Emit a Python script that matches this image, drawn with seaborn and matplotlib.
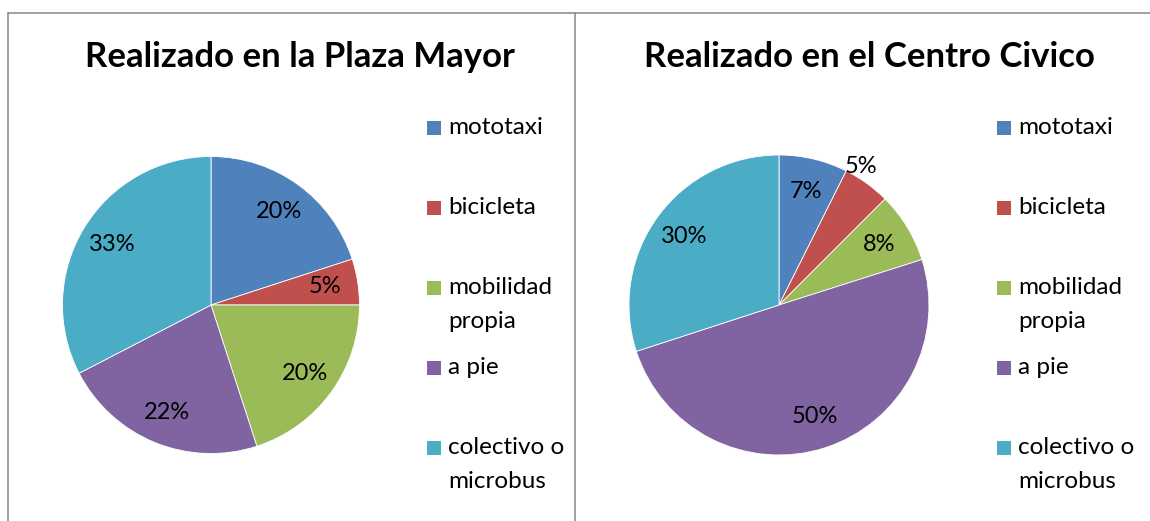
import matplotlib
matplotlib.use("Agg")
import matplotlib.pyplot as plt
import seaborn as sns
import numpy as np
from matplotlib.lines import Line2D
from matplotlib.patches import Rectangle

# data
categories = ["mototaxi", "bicicleta", "mobilidad\npropia", "a pie", "colectivo o\nmicrobus"]
plaza_mayor = [20, 5, 20, 22.4, 32.6]
centro_civico = [7.4, 5.1, 7.6, 49.9, 30.0]
titles = ["Realizado en la Plaza Mayor", "Realizado en el Centro Civico"]
colors = sns.color_palette(["#4F81BD", "#C0504D", "#9BBB59", "#8064A2", "#4BACC6"])

sns.set_theme(style="white")
plt.rcParams["font.family"] = ["Lato", "DejaVu Sans"]

W, H = 1150, 521
fig = plt.figure(figsize=(W / 100, H / 100), dpi=100)


def fx(px):
    return px / W


def fy(py):
    return 1 - py / H


def draw_panel(values, title, cx, cy, r, title_x, legend_x, outside=None):
    ax = fig.add_axes([fx(cx - r), fy(cy + r), fx(2 * r), 2 * r / H])
    wedges, texts, autotexts = ax.pie(
        values, colors=colors, startangle=90, counterclock=False,
        autopct="%.0f%%", pctdistance=0.78,
        wedgeprops=dict(linewidth=0.6, edgecolor="white"),
        textprops=dict(fontsize=17, color="black"),
    )
    ax.set_xlim(-1, 1)
    ax.set_ylim(-1, 1)
    ax.set_aspect("auto")
    ax.axis("off")
    if outside is not None:
        w = wedges[outside]
        ang = np.deg2rad((w.theta1 + w.theta2) / 2)
        autotexts[outside].set_position((1.1 * np.cos(ang) - 0.1, 1.1 * np.sin(ang) + 0.03))

    fig.text(fx(title_x), fy(57), title, ha="center", va="center",
             fontsize=25, fontweight="bold", color="black")

    # legend, Excel style: evenly spaced entries
    for i, (lab, col) in enumerate(zip(categories, colors)):
        yc = 128 + i * 80
        fig.patches.append(Rectangle((fx(legend_x), fy(yc + 7)), fx(14), 14 / H,
                                     transform=fig.transFigure, facecolor=col,
                                     edgecolor="none"))
        for j, line in enumerate(lab.split("\n")):
            fig.text(fx(legend_x + 21), fy(yc + j * 33), line, ha="left",
                     va="center", fontsize=17.5, color="black")


draw_panel(plaza_mayor, titles[0], 211, 305, 148.5, 300, 427)
draw_panel(centro_civico, titles[1], 779, 305, 150, 869, 997, outside=1)

# chart borders
border = dict(color="#868686", linewidth=1.1, transform=fig.transFigure)
fig.add_artist(Line2D([fx(7.5), 1], [fy(12.5), fy(12.5)], **border))
fig.add_artist(Line2D([fx(7.5), fx(7.5)], [fy(12.5), 0], **border))
fig.add_artist(Line2D([fx(574.5), fx(574.5)], [fy(12.5), 0], **border))

fig.savefig("out.png", dpi=100)
